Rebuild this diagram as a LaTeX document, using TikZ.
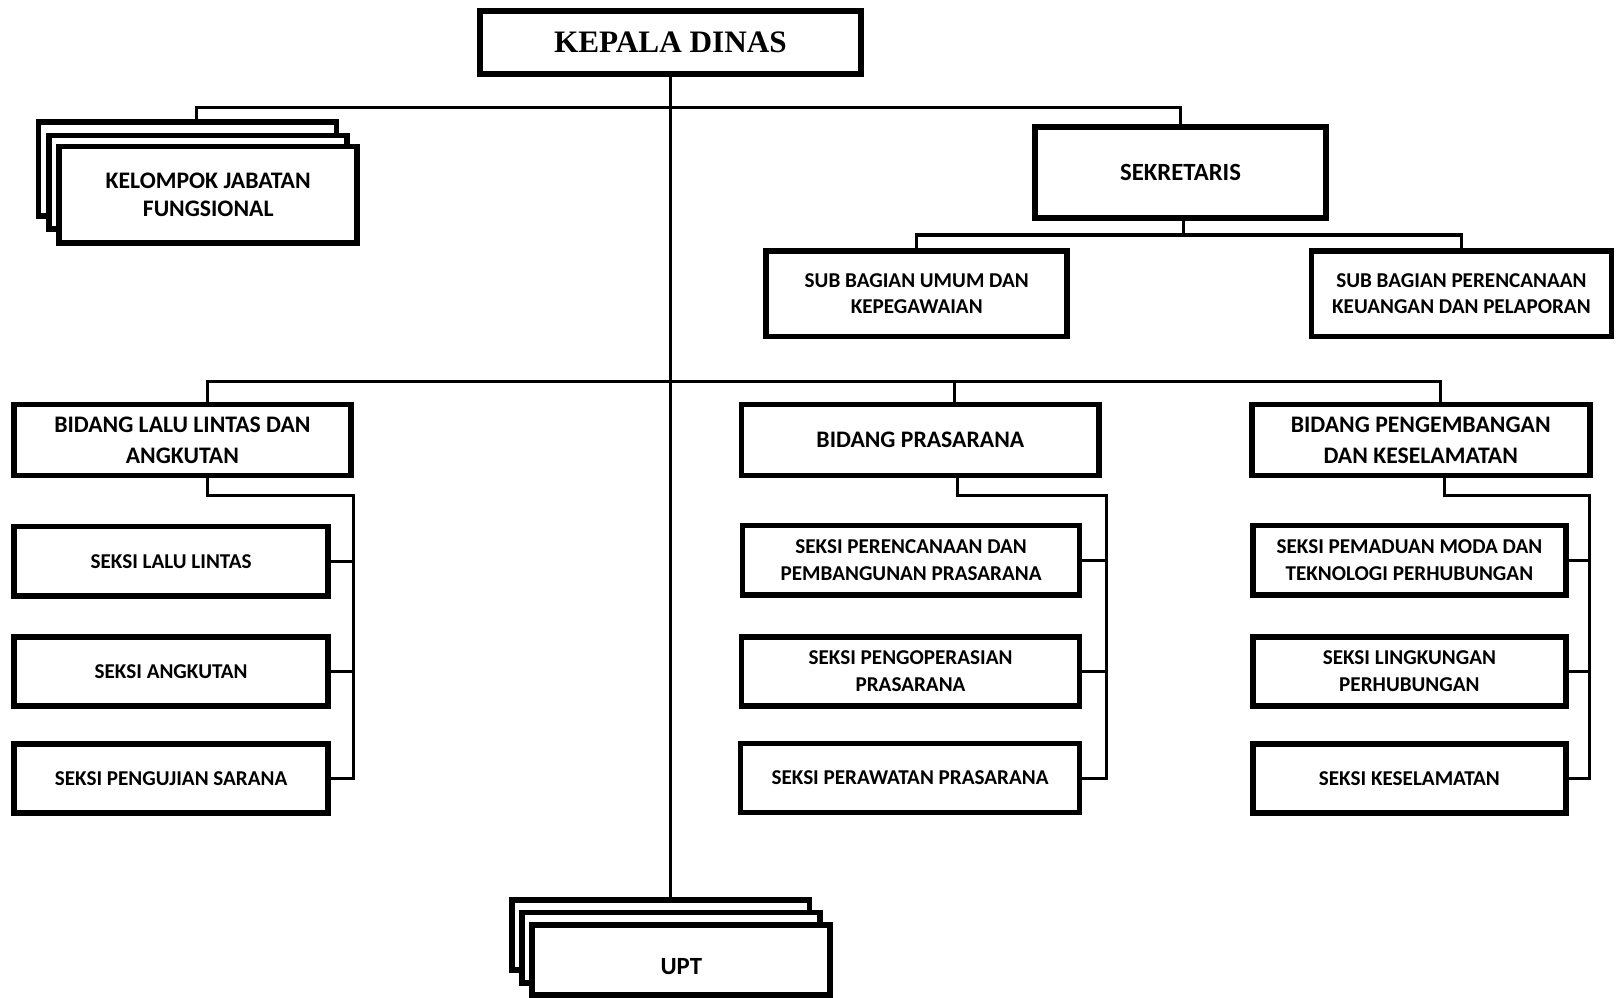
\documentclass[tikz,border=0pt]{standalone}
\usepackage{fontspec}
\setmainfont{Carlito}
\newfontfamily\headfont{Liberation Serif}
\begin{document}
\begin{tikzpicture}
[x=1pt,y=-1pt,
  boxDecorate/.style={shape=rectangle,draw,line width=5.5pt,fill=white,align=center,inner sep=0pt,
    font=\bfseries\fontsize{20.5}{26}\selectfont},
  bigDecorate/.style={boxDecorate,font=\bfseries\fontsize{23}{30}\selectfont},
  lineDecorate/.style={-,line width=3pt}]
\useasboundingbox (0,0) rectangle (1568,968);
%% head and staff
\node (kadis) at (650.5,41) [boxDecorate,minimum width=370pt,minimum height=61pt,
  font=\headfont\bfseries\fontsize{30.3}{36}\selectfont] {KEPALA DINAS};
\foreach \k/\x/\y in {0/182/164, 1/192/177}
  \node (kjf\k) at (\x,\y) [boxDecorate,minimum width=289pt,minimum height=91pt] {};
\node (kjf) at (202,189) [bigDecorate,minimum width=289pt,minimum height=94pt,
  font=\bfseries\fontsize{23}{28}\selectfont] {KELOMPOK JABATAN\\FUNGSIONAL};
\node (sek) at (1145.5,167.5) [boxDecorate,minimum width=282pt,minimum height=88pt,
  font=\bfseries\fontsize{24}{30}\selectfont] {SEKRETARIS};
\node (sub1) at (889.5,285) [boxDecorate,minimum width=292pt,minimum height=83pt] {SUB BAGIAN UMUM DAN\\KEPEGAWAIAN};
\node (sub2) at (1418,285) [boxDecorate,minimum width=291pt,minimum height=83pt] {SUB BAGIAN PERENCANAAN\\KEUANGAN DAN PELAPORAN};
%% bidang
\foreach \nodename/\x/\w/\txt in {
  llaj/177/327/{BIDANG LALU LINTAS DAN\\ANGKUTAN},
  pras/893/347/{BIDANG PRASARANA},
  peng/1378.5/328/{BIDANG PENGEMBANGAN\\DAN KESELAMATAN}}
{
  \node (\nodename) at (\x,427) [bigDecorate,minimum width=\w pt,minimum height=69pt] {\txt};
}
%% seksi
\foreach \nodename/\x/\y/\w/\txt in {
  llaj1/166/544.5/305/{SEKSI LALU LINTAS},
  llaj2/166/651.5/305/{SEKSI ANGKUTAN},
  llaj3/166/755.5/305/{SEKSI PENGUJIAN SARANA},
  pras1/884/543.5/327/{SEKSI PERENCANAAN DAN\\PEMBANGUNAN PRASARANA},
  pras2/883.5/651.5/328/{SEKSI PENGOPERASIAN\\PRASARANA},
  pras3/883/755/329/{SEKSI PERAWATAN PRASARANA},
  peng1/1367.5/543.5/304/{SEKSI PEMADUAN MODA DAN\\TEKNOLOGI PERHUBUNGAN},
  peng2/1367.5/651.5/304/{SEKSI LINGKUNGAN\\PERHUBUNGAN},
  peng3/1367.5/755.5/304/{SEKSI KESELAMATAN}}
{
  \node (\nodename) at (\x,\y) [boxDecorate,minimum width=\w pt,minimum height=67pt] {\txt};
}
%% upt
\foreach \k/\x/\y in {0/641/907.5, 1/651/919.5}
  \node (upt\k) at (\x,\y) [boxDecorate,minimum width=289pt,minimum height=68pt] {};
\node (upt) at (661,931.5) [boxDecorate,minimum width=289pt,minimum height=68pt,text height=28pt,
  font=\bfseries\fontsize{24}{30}\selectfont] {UPT};
%% lines
\coordinate (topbus) at (650,104);
\coordinate (sekbus) at (1148,228);
\coordinate (midbus) at (650,370);
\draw[lineDecorate] (kadis.south) -- (kadis.south |- upt0.north);
\draw[lineDecorate] ([xshift=9pt]kjf0.north) |- (topbus) -| (sek.north);
\draw[lineDecorate] (sek.south -| sekbus) -- (sekbus);
\draw[lineDecorate] (sub1.north) |- (sekbus) -| (sub2.north);
\draw[lineDecorate] ([xshift=24pt]llaj.north) |- (midbus) -| ([xshift=33pt]pras.north);
\draw[lineDecorate] (midbus) -| ([xshift=19.5pt]peng.north);
\foreach \b/\dx/\bar in {llaj/24/343, pras/36/1074, peng/23/1542}
{
  \coordinate (\b-bar) at (\bar,481);
  \draw[lineDecorate] ([xshift=\dx pt]\b.south) |- (\b-bar) |- (\b3.east);
  \path
  \foreach \s in {1,2}
  {
    (\b\s.east) edge[lineDecorate] (\b\s.east -| \b-bar)
  };
}
\end{tikzpicture}
\end{document}
